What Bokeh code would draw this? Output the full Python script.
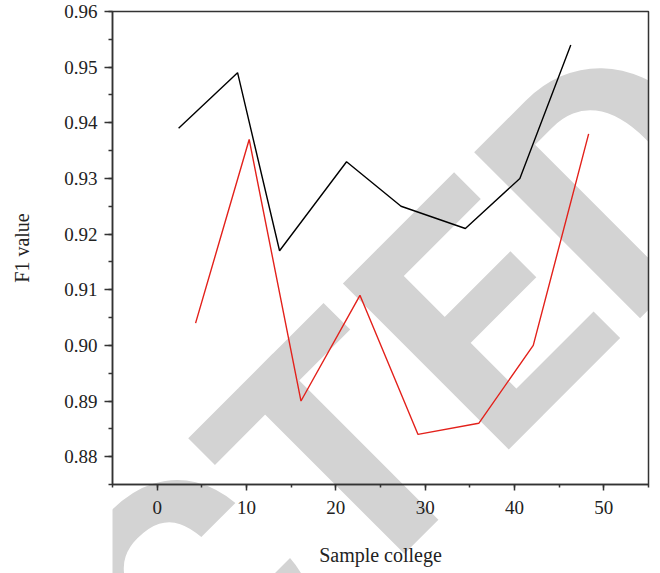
from bokeh.plotting import figure
from bokeh.layouts import column
from bokeh.models import Range1d, SingleIntervalTicker, PrintfTickFormatter, Label
from bokeh.embed import file_html
from bokeh.resources import INLINE

# Data
black_x = [2.4, 9.0, 13.7, 21.2, 27.3, 34.5, 40.6, 46.3]
black_y = [0.939, 0.949, 0.917, 0.933, 0.925, 0.921, 0.930, 0.954]
red_x = [4.3, 10.3, 16.1, 22.7, 29.2, 36.0, 42.1, 48.3]
red_y = [0.904, 0.937, 0.890, 0.909, 0.884, 0.886, 0.900, 0.938]

x_label = "Sample college"
y_label = "F1 value"
watermark = "RETRACTED"

W, H = 660, 573

# ---- background layer: the watermark (pixel coordinate system)
bg = figure(width=W, height=H, output_backend="svg", toolbar_location=None,
            x_range=Range1d(0, W), y_range=Range1d(H, 0),
            x_axis_location=None, y_axis_location=None,
            min_border_left=0, min_border_right=0, min_border_top=0, min_border_bottom=0)
bg.grid.visible = False
bg.outline_line_color = None
bg.background_fill_color = "white"
bg.border_fill_color = "white"
bg.add_layout(Label(x=720.2, y=101.2, text=watermark, angle=45, angle_units="deg",
                    text_font="Roboto", text_font_size="330px",
                    text_font_style="bold", text_color="#d3d3d3",
                    text_align="right", text_baseline="alphabetic"))

# ---- chart layer (transparent, stacked on top)
p = figure(width=W, height=H, output_backend="svg", toolbar_location=None,
           x_range=Range1d(-5, 55), y_range=Range1d(0.875, 0.96),
           min_border_left=112, min_border_right=12, min_border_top=11,
           min_border_bottom=89)
p.styles = {"position": "absolute", "top": "0px", "left": "0px"}
p.grid.visible = False
p.background_fill_color = None
p.border_fill_color = None
p.outline_line_color = "#333333"
p.outline_line_width = 1.5

p.line(black_x, black_y, line_color="black", line_width=1.4)
p.line(red_x, red_y, line_color="#e3211b", line_width=1.4)

p.xaxis.ticker = SingleIntervalTicker(interval=10, num_minor_ticks=2)
p.yaxis.ticker = SingleIntervalTicker(interval=0.01, num_minor_ticks=2)
p.yaxis.formatter = PrintfTickFormatter(format="%.2f")
p.xaxis.axis_label = x_label
p.yaxis.axis_label = y_label

for ax in (p.xaxis[0], p.yaxis[0]):
    ax.axis_line_color = "#333333"
    ax.axis_line_width = 1.5
    ax.major_tick_line_color = "#333333"
    ax.major_tick_line_width = 1.5
    ax.minor_tick_line_color = "#333333"
    ax.minor_tick_line_width = 1.5
    ax.major_tick_in = 0
    ax.minor_tick_in = 0
    ax.major_label_text_font = "Liberation Serif"
    ax.major_label_text_font_size = "19px"
    ax.major_label_text_color = "#222222"
    ax.axis_label_text_font = "Liberation Serif"
    ax.axis_label_text_font_size = "20px"
    ax.axis_label_text_font_style = "normal"
    ax.axis_label_text_color = "#222222"

p.xaxis.major_tick_out = 6
p.xaxis.minor_tick_out = 3
p.xaxis.major_label_standoff = 10
p.xaxis.axis_label_standoff = 27
p.yaxis.major_tick_out = 8
p.yaxis.minor_tick_out = 4
p.yaxis.major_label_standoff = 7
p.yaxis.axis_label_standoff = 28

page = column(bg, p)
open("out.html", "w").write(file_html(page, INLINE))
